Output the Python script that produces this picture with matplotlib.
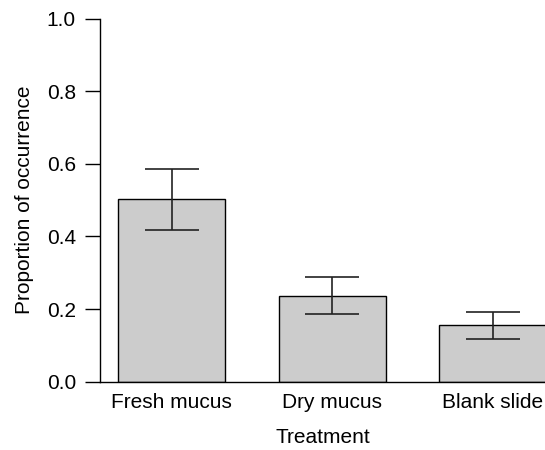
import numpy as np
import matplotlib
matplotlib.use("Agg")
import matplotlib.pyplot as plt

# data
treatments = ["Fresh mucus", "Dry mucus", "Blank slide"]
proportion = [0.502, 0.237, 0.155]
std_err = [0.084, 0.051, 0.037]
y_ticks = [0.0, 0.2, 0.4, 0.6, 0.8, 1.0]

plt.rcParams['font.family'] = ['Liberation Sans', 'DejaVu Sans']
plt.rcParams['font.size'] = 15

fig = plt.figure(figsize=(5.45, 4.5), dpi=100)
ax = fig.add_axes([100 / 545, 1 - 381.7 / 450, 1 - 100 / 545, (381.7 - 18.7) / 450])

x = np.arange(len(treatments))
ax.bar(x, proportion, width=0.668, color="#cccccc", edgecolor="black", linewidth=1.0, zorder=2)
ax.errorbar(x, proportion, yerr=std_err, fmt="none", ecolor="#222222",
            elinewidth=1.2, capsize=19.5, capthick=1.2, zorder=3)

ax.set_xlim(-0.445, 2.324)
ax.set_ylim(0, 1.0)
ax.set_yticks(y_ticks)
ax.set_yticklabels([f"{v:.1f}" for v in y_ticks])
ax.set_xticks(x)
ax.set_xticklabels(treatments)

ax.spines["top"].set_visible(False)
ax.spines["right"].set_visible(False)
ax.spines["left"].set_linewidth(1.0)
ax.spines["bottom"].set_linewidth(1.0)
ax.tick_params(axis="y", direction="out", length=10.8, width=1.0, pad=6.5)
ax.tick_params(axis="x", length=0, pad=8)

ax.set_xlabel("Treatment", labelpad=12)
ax.set_ylabel("Proportion of occurrence", labelpad=9)

fig.savefig("out.png", dpi=100)
